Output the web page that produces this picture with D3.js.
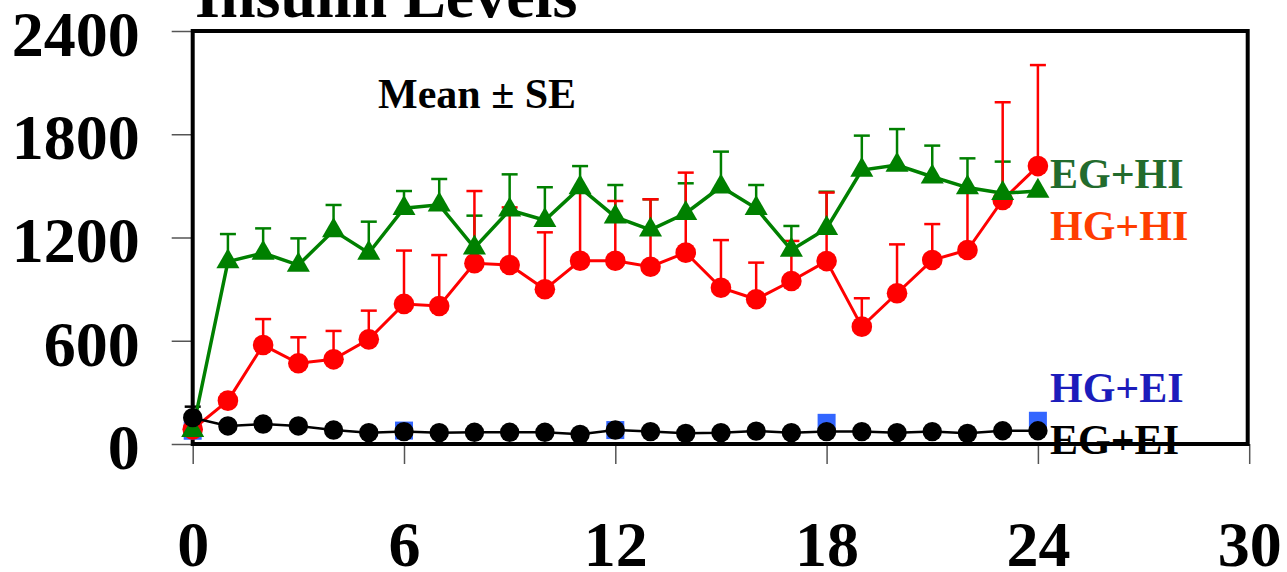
<!DOCTYPE html>
<html>
<head>
<meta charset="utf-8">
<script src="https://cdn.jsdelivr.net/npm/d3@7"></script>
<style>
  body { margin: 0; background: #fff; }
  svg { display: block; font-family: "Liberation Serif", "Times New Roman", serif; font-weight: bold; }
</style>
</head>
<body>
<div id="chart"></div>
<script>
const WIDTH = 1287, HEIGHT = 572;

// hours after start
const hours = [0,1,2,3,4,5,6,7,8,9,10,11,12,13,14,15,16,17,18,19,20,21,22,23,24];

// EG+HI (green triangles)
const egHi   = [80,1060,1110,1040,1240,1110,1370,1390,1140,1360,1300,1490,1320,1244,1341,1495,1370,1127,1253,1592,1621,1553,1490,1457,1470];
const egHiSe = [0,160,143,155,149,182,100,150,187,207,192,125,185,178,174,204,135,140,213,200,209,181,170,184,0];

// HG+HI (red circles)
const hgHi   = [85,252,575,469,492,608,814,802,1050,1040,899,1065,1065,1030,1112,908,841,947,1063,682,876,1069,1127,1418,1615];
const hgHiSe = [0,0,151,151,165,167,310,296,420,335,331,415,347,392,465,277,213,233,398,165,284,209,353,568,587];

// EG+EI (black circles)
const egEi   = [153,105,116,105,81,66,72,66,68,68,68,56,81,72,62,66,75,66,72,72,66,72,62,77,77];
const egEiSe = [64,0,0,0,0,0,0,0,0,0,0,0,0,0,0,0,0,0,0,0,0,0,0,0,0];

// HG+EI (blue squares, only visible every 6 h)
const hgEiHours = [0,6,12,18,24];
const hgEi      = [77,78,81,123,135];

const xTicks = [0,6,12,18,24,30];
const yTicks = [0,600,1200,1800,2400];

const svg = d3.select("#chart").append("svg")
    .attr("width", WIDTH)
    .attr("height", HEIGHT);

let x = d3.scaleLinear().domain([0, 30]).range([192.7, 1249.2]);
let y = d3.scaleLinear().domain([0, 2400]).range([444, 31]);

// title, cut off by the top edge
svg.append("text")
    .attr("x", 195).attr("y", 17)
    .style("font-size", "64px")
    .text("Insulin Levels");

// axes
let yAxis = svg.append("g")
    .attr("transform", `translate(${x(0)},0)`)
    .call(d3.axisLeft(y).tickValues(yTicks).tickSize(21).tickPadding(32).tickFormat(d3.format("d")));
let xAxis = svg.append("g")
    .attr("transform", `translate(0,${y(0)})`)
    .call(d3.axisBottom(x).tickValues(xTicks).tickSize(20).tickPadding(57));

[yAxis, xAxis].forEach(function(a){
    a.select(".domain").remove();
    a.selectAll(".tick line").attr("stroke", "#555").attr("stroke-width", 1.5);
    a.selectAll(".tick text")
        .attr("fill", "#000")
        .style("font-size", "64px")
        .style("font-family", "Liberation Serif, Times New Roman, serif")
        .style("font-weight", "bold");
});
yAxis.selectAll(".tick text").attr("dy", "0.38em");

// plot frame
svg.append("rect")
    .attr("x", x(0)).attr("y", y(2400))
    .attr("width", x(30) - x(0) - 1.5).attr("height", y(0) - y(2400))
    .attr("fill", "none").attr("stroke", "#000").attr("stroke-width", 4);

svg.append("text")
    .attr("x", 378).attr("y", 108)
    .style("font-size", "42px")
    .text("Mean \u00b1 SE");

// error bars, upward only
function errorBars(vals, se, color){
    let g = svg.append("g").attr("stroke", color).attr("stroke-width", 2.5);
    hours.forEach(function(h, i){
        if (!se[i]) return;
        let top = y(vals[i] + se[i]);
        g.append("line").attr("x1", x(h)).attr("x2", x(h)).attr("y1", y(vals[i])).attr("y2", top);
        g.append("line").attr("x1", x(h) - 8).attr("x2", x(h) + 8).attr("y1", top).attr("y2", top);
    });
}
errorBars(egHi, egHiSe, "#008000");
errorBars(hgHi, hgHiSe, "#ff0000");
errorBars(egEi, egEiSe, "#000");

let line = d3.line().x((d) => x(d[0])).y((d) => y(d[1]));

function series(vals, color, width){
    svg.append("path")
        .datum(hours.map((h, i) => [h, vals[i]]))
        .attr("d", line)
        .attr("fill", "none")
        .attr("stroke", color)
        .attr("stroke-width", width);
}

// blue squares sit behind everything else
svg.append("g").selectAll("rect")
    .data(hgEiHours)
    .enter().append("rect")
    .attr("x", (d) => x(d) - 9).attr("y", (d, i) => y(hgEi[i]) - 9)
    .attr("width", 18).attr("height", 18)
    .attr("fill", "#3366ff");

series(hgHi, "#ff0000", 3);
svg.append("g").selectAll("circle")
    .data(hours)
    .enter().append("circle")
    .attr("cx", (d) => x(d)).attr("cy", (d, i) => y(hgHi[i]))
    .attr("r", 10.3)
    .attr("fill", "#ff0000");

series(egHi, "#008000", 3.5);
let tri = d3.symbol().type(d3.symbolTriangle).size(230);
svg.append("g").selectAll("path")
    .data(hours)
    .enter().append("path")
    .attr("d", tri)
    .attr("transform", (d, i) => `translate(${x(d)},${y(egHi[i])})`)
    .attr("fill", "#008000");

series(egEi, "#000", 2.5);
svg.append("g").selectAll("circle")
    .data(hours)
    .enter().append("circle")
    .attr("cx", (d) => x(d)).attr("cy", (d, i) => y(egEi[i]))
    .attr("r", 9.7)
    .attr("fill", "#000");

// series labels
const labels = [["EG+HI", "#226b2d", 188], ["HG+HI", "#ff3d00", 240], ["HG+EI", "#1c1cbb", 402], ["EG+EI", "#000", 454]];
svg.append("g").selectAll("text")
    .data(labels)
    .enter().append("text")
    .attr("x", 1050)
    .attr("y", (d) => d[2])
    .attr("fill", (d) => d[1])
    .style("font-size", "42px")
    .text((d) => d[0]);
</script>
</body>
</html>
